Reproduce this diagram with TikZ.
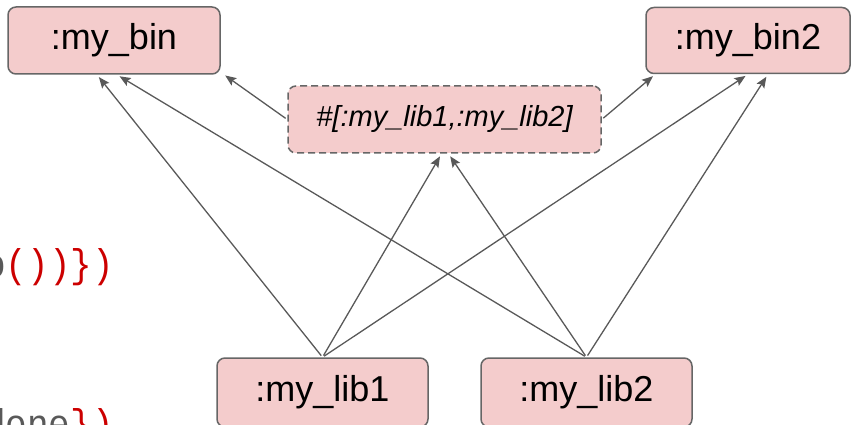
\documentclass[tikz,border=0pt]{standalone}
\usepackage{fontspec}
\setmainfont{Liberation Sans}
\newfontfamily\codefont{Liberation Mono}
\usetikzlibrary{arrows.meta,calc}

\definecolor{boxfill}{HTML}{F4CCCC}
\definecolor{boxline}{HTML}{666666}
\definecolor{edgecol}{HTML}{595959}
\definecolor{codered}{HTML}{CC0000}
\definecolor{codegray}{HTML}{595959}

\newcommand{\narrowcode}[1]{\scalebox{0.9}[1]{#1}}

\tikzset{
  target/.style={draw=boxline, fill=boxfill, line width=1.5pt, rounded corners=8pt,
    inner sep=0pt, font=\fontsize{36}{40}\selectfont},
  groupbox/.style={target, dash pattern=on 7pt off 4pt, font=\fontsize{29}{33}\selectfont\itshape},
  dep/.style={draw=edgecol, line width=1.3pt, -{Stealth[length=11pt,width=9pt,inset=2pt]},
    shorten >=3pt, shorten <=2pt},
  codeline/.style={anchor=base west, inner sep=0pt, font=\fontsize{40}{44}\selectfont\codefont}
}

\begin{document}
\begin{tikzpicture}[x=1pt,y=-1pt]
  \useasboundingbox (0,0) rectangle (852,425);
  \clip (0,0) rectangle (852,425);

  % code fragments on the left
  \node[codeline] (codeA) at (-16,277) {\narrowcode{\textcolor{codegray}{o}\textcolor{codered}{())\})}}};
  \node[codeline] (codeB) at (-16,437) {\narrowcode{\textcolor{codegray}{done}\textcolor{codered}{\})}}};

  % targets
  \node[target, minimum width=212pt, minimum height=67pt] (bin)  at (114,40.5) {:my\_bin};
  \node[target, minimum width=204pt, minimum height=66pt] (bin2) at (748,40.5) {:my\_bin2};
  \node[groupbox, minimum width=313pt, minimum height=67pt] (grp) at (444.5,119.5) {\#[:my\_lib1,:my\_lib2]};
  \node[target, minimum width=211pt, minimum height=69pt] (lib1) at (322.5,392.5) {:my\_lib1};
  \node[target, minimum width=211pt, minimum height=69pt] (lib2) at (586.5,392.5) {:my\_lib2};

  % dependencies
  \draw[dep] (grp.west) -- ($(bin.south east)+(2,-1)$);
  \draw[dep] (grp.east) -- ($(bin2.south west)+(10,0)$);
  \draw[dep] (lib1.north) -- ($(bin.south)+(-17,0)$);
  \draw[dep] (lib2.north) -- ($(bin.south)+(3,0)$);
  \draw[dep] (lib1.north) -- ($(bin2.south)+(0,0)$);
  \draw[dep] (lib2.north) -- ($(bin2.south)+(20,0)$);
  \draw[dep] (lib1.north) -- ($(grp.south)+(-3,0)$);
  \draw[dep] (lib2.north) -- ($(grp.south)+(4,0)$);
\end{tikzpicture}
\end{document}
